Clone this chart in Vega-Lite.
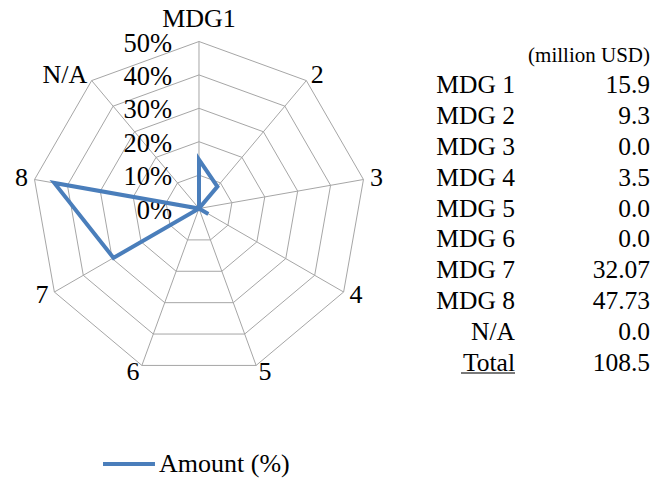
{
  "$schema": "https://vega.github.io/schema/vega-lite/v6.json",
  "width": 652,
  "height": 479,
  "autosize": "none",
  "padding": 0,
  "background": "white",
  "config": {
    "view": {"stroke": null},
    "font": "Liberation Serif",
    "text": {"font": "Liberation Serif", "color": "black"},
    "legend": {"labelFont": "Liberation Serif"}
  },
  "datasets": {
    "axes": [
      {"k": 0, "axis": "MDG1", "pct": 14.65},
      {"k": 1, "axis": "2", "pct": 8.57},
      {"k": 2, "axis": "3", "pct": 0},
      {"k": 3, "axis": "4", "pct": 3.23},
      {"k": 4, "axis": "5", "pct": 0},
      {"k": 5, "axis": "6", "pct": 0},
      {"k": 6, "axis": "7", "pct": 29.56},
      {"k": 7, "axis": "8", "pct": 43.99},
      {"k": 8, "axis": "N/A", "pct": 0}
    ],
    "rings": [
      {"k": 0, "levels": [10, 20, 30, 40, 50]},
      {"k": 1, "levels": [10, 20, 30, 40, 50]},
      {"k": 2, "levels": [10, 20, 30, 40, 50]},
      {"k": 3, "levels": [10, 20, 30, 40, 50]},
      {"k": 4, "levels": [10, 20, 30, 40, 50]},
      {"k": 5, "levels": [10, 20, 30, 40, 50]},
      {"k": 6, "levels": [10, 20, 30, 40, 50]},
      {"k": 7, "levels": [10, 20, 30, 40, 50]},
      {"k": 8, "levels": [10, 20, 30, 40, 50]}
    ],
    "ticks": [
      {"level": 0, "tick": "0%"},
      {"level": 10, "tick": "10%"},
      {"level": 20, "tick": "20%"},
      {"level": 30, "tick": "30%"},
      {"level": 40, "tick": "40%"},
      {"level": 50, "tick": "50%"}
    ],
    "table": [
      {"row": "MDG 1", "amount": "15.9"},
      {"row": "MDG 2", "amount": "9.3"},
      {"row": "MDG 3", "amount": "0.0"},
      {"row": "MDG 4", "amount": "3.5"},
      {"row": "MDG 5", "amount": "0.0"},
      {"row": "MDG 6", "amount": "0.0"},
      {"row": "MDG 7", "amount": "32.07"},
      {"row": "MDG 8", "amount": "47.73"},
      {"row": "N/A", "amount": "0.0"},
      {"row": "Total", "amount": "108.5"}
    ],
    "header": [
      {"row": "hdr", "col": "amount", "note": "(million USD)"}
    ]
  },
  "resolve": {"scale": {"x": "independent", "y": "independent"}},
  "layer": [
    {
      "layer": [
        {
          "data": {"name": "rings"},
          "transform": [
            {"flatten": ["levels"], "as": ["level"]},
            {"calculate": "datum.k * 2 * PI / 9", "as": "theta"},
            {"calculate": "datum.level * sin(datum.theta)", "as": "gx"},
            {"calculate": "datum.level * cos(datum.theta)", "as": "gy"}
          ],
          "mark": {"type": "line", "interpolate": "linear-closed", "stroke": "#A6A6A6", "strokeWidth": 1},
          "encoding": {
            "x": {"field": "gx", "type": "quantitative", "scale": {"domain": [-59.58, 135.63], "nice": false, "zero": false}, "axis": null},
            "y": {"field": "gy", "type": "quantitative", "scale": {"domain": [-80.99, 62.43], "nice": false, "zero": false}, "axis": null},
            "detail": {"field": "level", "type": "nominal"},
            "order": {"field": "k", "type": "quantitative"}
          }
        },
        {
          "data": {"name": "axes"},
          "transform": [
            {"calculate": "datum.k * 2 * PI / 9", "as": "theta"},
            {"calculate": "50 * sin(datum.theta)", "as": "sx"},
            {"calculate": "50 * cos(datum.theta)", "as": "sy"}
          ],
          "mark": {"type": "rule", "stroke": "#A6A6A6", "strokeWidth": 1},
          "encoding": {
            "x": {"field": "sx", "type": "quantitative"},
            "y": {"field": "sy", "type": "quantitative"},
            "x2": {"datum": 0},
            "y2": {"datum": 0}
          }
        },
        {
          "data": {"name": "ticks"},
          "mark": {"type": "text", "font": "Liberation Serif", "align": "right", "baseline": "middle", "dx": -27, "dy": 2, "fontSize": 26.5},
          "encoding": {
            "x": {"datum": 0, "type": "quantitative"},
            "y": {"field": "level", "type": "quantitative"},
            "text": {"field": "tick"}
          }
        },
        {
          "data": {"name": "axes"},
          "transform": [
            {"calculate": "datum.k * 2 * PI / 9", "as": "theta"},
            {"calculate": "datum.pct * sin(datum.theta)", "as": "px"},
            {"calculate": "datum.pct * cos(datum.theta)", "as": "py"}
          ],
          "mark": {"type": "line", "interpolate": "linear-closed", "strokeWidth": 4, "strokeJoin": "miter"},
          "encoding": {
            "x": {"field": "px", "type": "quantitative"},
            "y": {"field": "py", "type": "quantitative"},
            "order": {"field": "k", "type": "quantitative"},
            "color": {
              "datum": "Amount (%)",
              "type": "nominal",
              "scale": {"range": ["#4A7EBB"]},
              "legend": {
                "orient": "none",
                "legendX": 101,
                "legendY": 436,
                "title": null,
                "padding": 0,
                "symbolType": "stroke",
                "symbolSize": 2700,
                "symbolStrokeWidth": 4,
                "labelFont": "Liberation Serif",
                "labelFontSize": 26,
                "labelColor": "black",
                "labelOffset": 2
              }
            }
          }
        },
        {
          "data": {"name": "axes"},
          "transform": [
            {"filter": "datum.k >= 1 && datum.k <= 4"},
            {"calculate": "datum.k * 2 * PI / 9", "as": "theta"},
            {"calculate": "52 * sin(datum.theta)", "as": "lx"},
            {"calculate": "52 * cos(datum.theta)", "as": "ly"}
          ],
          "mark": {"type": "text", "font": "Liberation Serif", "align": "left", "baseline": "middle", "fontSize": 26},
          "encoding": {
            "x": {"field": "lx", "type": "quantitative"},
            "y": {"field": "ly", "type": "quantitative"},
            "text": {"field": "axis"}
          }
        },
        {
          "data": {"name": "axes"},
          "transform": [
            {"filter": "datum.k >= 5"},
            {"calculate": "datum.k * 2 * PI / 9", "as": "theta"},
            {"calculate": "52 * sin(datum.theta)", "as": "lx"},
            {"calculate": "52 * cos(datum.theta)", "as": "ly"}
          ],
          "mark": {"type": "text", "font": "Liberation Serif", "align": "right", "baseline": "middle", "fontSize": 26},
          "encoding": {
            "x": {"field": "lx", "type": "quantitative"},
            "y": {"field": "ly", "type": "quantitative"},
            "text": {"field": "axis"}
          }
        },
        {
          "data": {"name": "axes"},
          "transform": [
            {"filter": "datum.k == 0"},
            {"calculate": "0", "as": "lx"},
            {"calculate": "52", "as": "ly"}
          ],
          "mark": {"type": "text", "font": "Liberation Serif", "align": "center", "baseline": "alphabetic", "fontSize": 26, "dy": -8},
          "encoding": {
            "x": {"field": "lx", "type": "quantitative"},
            "y": {"field": "ly", "type": "quantitative"},
            "text": {"field": "axis"}
          }
        }
      ]
    },
    {
      "layer": [
        {
          "data": {"name": "header"},
          "mark": {"type": "text", "font": "Liberation Serif", "align": "right", "baseline": "middle", "fontSize": 21, "dy": 2},
          "encoding": {
            "x": {"field": "col", "type": "nominal", "scale": {"type": "point", "padding": 0, "domain": ["label", "amount"], "range": [515, 650]}, "axis": null},
            "y": {"field": "row", "type": "nominal", "scale": {"type": "point", "padding": 0, "domain": ["hdr", "MDG 1", "MDG 2", "MDG 3", "MDG 4", "MDG 5", "MDG 6", "MDG 7", "MDG 8", "N/A", "Total"], "range": [54, 363]}, "axis": null},
            "text": {"field": "note"}
          }
        },
        {
          "data": {"name": "table"},
          "transform": [{"calculate": "'label'", "as": "col"}],
          "mark": {"type": "text", "font": "Liberation Serif", "align": "right", "baseline": "middle", "fontSize": 25.5},
          "encoding": {
            "x": {"field": "col", "type": "nominal"},
            "y": {"field": "row", "type": "nominal"},
            "text": {"field": "row"}
          }
        },
        {
          "data": {"name": "table"},
          "transform": [{"calculate": "'amount'", "as": "col"}],
          "mark": {"type": "text", "font": "Liberation Serif", "align": "right", "baseline": "middle", "fontSize": 25.5},
          "encoding": {
            "x": {"field": "col", "type": "nominal"},
            "y": {"field": "row", "type": "nominal"},
            "text": {"field": "amount"}
          }
        },
        {
          "data": {"name": "table"},
          "transform": [{"filter": "datum.row == 'Total'"}, {"calculate": "'label'", "as": "col"}],
          "mark": {"type": "tick", "orient": "horizontal", "color": "black", "size": 54, "thickness": 1.5, "xOffset": -27, "yOffset": 10},
          "encoding": {
            "x": {"field": "col", "type": "nominal"},
            "y": {"field": "row", "type": "nominal"}
          }
        }
      ]
    }
  ]
}
